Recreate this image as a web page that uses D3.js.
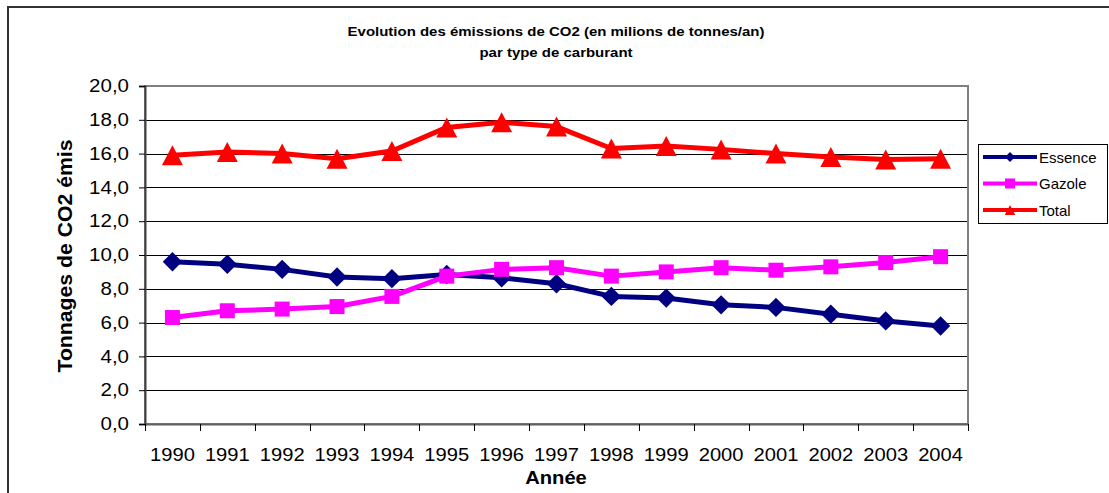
<!DOCTYPE html>
<html><head><meta charset="utf-8">
<script src="https://cdn.jsdelivr.net/npm/d3@7"></script>
<style>body{margin:0;background:#fff}svg{display:block;font-family:"Liberation Sans",Arial,sans-serif}</style>
</head><body>
<svg id="c" width="1109" height="493"></svg>
<script>
const years = ["1990","1991","1992","1993","1994","1995","1996","1997","1998","1999","2000","2001","2002","2003","2004"];
const essence = [9.6,9.45,9.15,8.7,8.6,8.85,8.65,8.3,7.55,7.45,7.05,6.9,6.5,6.1,5.8];
const gazole  = [6.3,6.7,6.8,6.95,7.55,8.75,9.15,9.25,8.75,9.0,9.25,9.1,9.3,9.55,9.9];
const total   = [15.9,16.1,16.0,15.7,16.15,17.55,17.85,17.6,16.3,16.45,16.25,16.0,15.8,15.65,15.7];
const yTicks  = [0,2,4,6,8,10,12,14,16,18,20];
const seriesNames = ["Essence","Gazole","Total"];
const seriesColors = ["#000080","#FF00FF","#FF0000"];
const seriesShapes = ["diamond","square","triangle"];

const svg = d3.select("#c");
const L = 145, R = 968, T = 86, B = 424;
const x = d3.scaleBand().domain(years).range([L, R]).padding(0);
const y = d3.scaleLinear().domain([0, 20]).range([B, T]);

// outer frame
svg.append("rect").attr("x",8).attr("y",7).attr("width",1140).attr("height",520)
  .attr("fill","none").attr("stroke","#333").attr("stroke-width",2);

// title
const title = svg.append("g").attr("font-weight","bold").attr("font-size",13.5).attr("text-anchor","middle").attr("fill","#000");
title.append("text").attr("transform","translate(556,36) scale(1.11,1)").text("Evolution des émissions de CO2 (en milions de tonnes/an)");
title.append("text").attr("transform","translate(556,57) scale(1.11,1)").text("par type de carburant");

// gridlines
svg.append("g").selectAll("line").data(yTicks.filter(d=>d>0&&d<20)).join("line")
  .attr("x1",L).attr("x2",R).attr("y1",d=>Math.round(y(d))+0.5).attr("y2",d=>Math.round(y(d))+0.5)
  .attr("stroke","#000").attr("stroke-width",1);

// plot border
svg.append("rect").attr("x",L).attr("y",T).attr("width",R-L).attr("height",B-T)
  .attr("fill","none").attr("stroke","#808080").attr("stroke-width",2);

// y axis
const fmt = d => d.toFixed(1).replace(".", ",");
const ya = svg.append("g").attr("transform",`translate(${L},0)`)
  .call(d3.axisLeft(y).tickValues(yTicks).tickFormat(fmt).tickSize(6).tickPadding(10));
ya.select(".domain").attr("stroke","#404040").attr("stroke-width",2);
ya.selectAll(".tick line").attr("stroke","#000");
ya.selectAll(".tick text").attr("font-size",18).attr("fill","#000").attr("font-family","Liberation Sans, Arial, sans-serif")
  .each(function(){ const t=d3.select(this); const xx=+t.attr("x"); t.attr("x",0).attr("transform",`translate(${xx},0) scale(1.14,1)`); });

// x axis
const xa = svg.append("g").attr("transform",`translate(0,${B})`)
  .call(d3.axisBottom(x).tickSize(0).tickPadding(24));
xa.select(".domain").attr("stroke","#606060").attr("stroke-width",2);
xa.selectAll(".tick text").attr("font-size",18).attr("fill","#000").attr("font-family","Liberation Sans, Arial, sans-serif")
  .each(function(){ const t=d3.select(this); const yy=+t.attr("y"); t.attr("y",0).attr("transform",`translate(0,${yy}) scale(1.12,1)`); });
const bounds = years.map(d=>x(d)).concat([R]);
svg.append("g").selectAll("line").data(bounds).join("line")
  .attr("x1",d=>Math.round(d)+0.5).attr("x2",d=>Math.round(d)+0.5).attr("y1",B).attr("y2",B+7)
  .attr("stroke","#000").attr("stroke-width",1);

// axis titles
svg.append("text").attr("transform","translate(556,484) scale(1.12,1)").attr("text-anchor","middle")
  .attr("font-weight","bold").attr("font-size",18).text("Année");
svg.append("text").attr("transform","translate(72,256) rotate(-90)").attr("text-anchor","middle")
  .attr("font-weight","bold").attr("font-size",19.5).attr("textLength",233).attr("lengthAdjust","spacingAndGlyphs")
  .text("Tonnages de CO2 émis");

function shapePath(shape, s){
  if(shape==="diamond") return `M0,${-s}L${s},0L0,${s}L${-s},0Z`;
  if(shape==="square") return `M${-s},${-s}H${s}V${s}H${-s}Z`;
  return `M0,${-s}L${s*1.05},${s}L${-s*1.05},${s}Z`;
}
const sizes = {diamond:9.7, square:7.5, triangle:10};

const data = [essence, gazole, total];
const line = d3.line().x((d,i)=>x(years[i])+x.bandwidth()/2).y(d=>y(d));
data.forEach((vals,k)=>{
  const g = svg.append("g");
  g.append("path").attr("d",line(vals)).attr("fill","none").attr("stroke",seriesColors[k]).attr("stroke-width",5).attr("stroke-linejoin","round");
  g.selectAll("path.m").data(vals).join("path").attr("class","m")
    .attr("transform",(d,i)=>`translate(${x(years[i])+x.bandwidth()/2},${y(d)})`)
    .attr("d",shapePath(seriesShapes[k], sizes[seriesShapes[k]])).attr("fill",seriesColors[k]);
});

// legend
const lg = svg.append("g");
lg.append("rect").attr("x",978.5).attr("y",144.5).attr("width",129).attr("height",79).attr("fill","#fff").attr("stroke","#000").attr("stroke-width",1);
seriesNames.forEach((n,k)=>{
  const yy = 157 + k*26.5;
  lg.append("line").attr("x1",983).attr("x2",1037).attr("y1",yy).attr("y2",yy).attr("stroke",seriesColors[k]).attr("stroke-width",4);
  lg.append("path").attr("transform",`translate(1010,${yy})`).attr("d",shapePath(seriesShapes[k], 5)).attr("fill",seriesColors[k]);
  lg.append("text").attr("x",1039).attr("y",yy+5.5).attr("font-size",15).text(n);
});
</script>
</body></html>
